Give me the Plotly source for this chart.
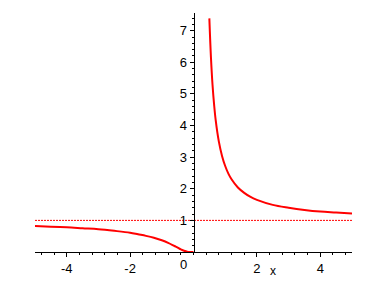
import plotly.graph_objects as go

# Left branch (x < 0)
left_x = [-5.0, -4.5, -4.0, -3.5, -3.0, -2.5, -2.0, -1.75, -1.5, -1.25, -1.0, -0.8, -0.6, -0.5, -0.4, -0.3, -0.2, -0.1, 0.0]
left_y = [0.82, 0.80, 0.78, 0.75, 0.72, 0.67, 0.61, 0.56, 0.51, 0.45, 0.37, 0.29, 0.19, 0.14, 0.08, 0.04, 0.01, 0.0, 0.0]

# Right branch (x > 0)
right_x = [0.5, 0.55, 0.6, 0.65, 0.7, 0.8, 0.9, 1.0, 1.1, 1.2, 1.4, 1.6, 1.8, 2.0, 2.5, 3.0, 3.5, 4.0, 4.5, 5.0]
right_y = [7.39, 6.16, 5.29, 4.66, 4.17, 3.49, 3.04, 2.72, 2.48, 2.30, 2.04, 1.87, 1.74, 1.65, 1.49, 1.40, 1.33, 1.28, 1.25, 1.22]

# Horizontal asymptote
asym_x = [-5.0, 5.0]
asym_y = [1.0, 1.0]

x_tick_vals = [-4, -2, 2, 4]
x_tick_text = ["-4", "-2", "2", "4"]
y_tick_vals = [1, 2, 3, 4, 5, 6, 7]
y_tick_text = ["1", "2", "3", "4", "5", "6", "7"]

red = "#ff0000"
font = dict(family="Liberation Sans, Arial, sans-serif", size=13, color="black")

fig = go.Figure()
fig.add_trace(go.Scatter(x=asym_x, y=asym_y, mode="lines",
                         line=dict(color=red, width=1, dash="2px,1px"), hoverinfo="skip"))
fig.add_trace(go.Scatter(x=left_x, y=left_y, mode="lines",
                         line=dict(color=red, width=2, shape="spline")))
fig.add_trace(go.Scatter(x=right_x, y=right_y, mode="lines",
                         line=dict(color=red, width=2, shape="spline")))

fig.update_layout(
    width=388, height=288,
    margin=dict(l=35, r=36, t=13, b=36),
    paper_bgcolor="white", plot_bgcolor="white",
    showlegend=False,
    font=font,
    xaxis=dict(range=[-5, 5], showgrid=False, zeroline=False,
               showline=True, linecolor="black", linewidth=1,
               tickmode="array", tickvals=x_tick_vals, ticktext=x_tick_text,
               ticks="outside", ticklen=4, tickcolor="black", tickwidth=1,
               minor=dict(dtick=0.4, tick0=0, ticks="outside", ticklen=2, tickcolor="black"),
               tickfont=font, fixedrange=True),
    yaxis=dict(range=[0, 7.56], showgrid=False, zeroline=False,
               showline=True, linecolor="black", linewidth=1,
               anchor="free", position=0.5,
               tickmode="array", tickvals=y_tick_vals, ticktext=y_tick_text,
               ticks="outside", ticklen=4, tickcolor="black", tickwidth=1,
               minor=dict(dtick=0.2, tick0=0, ticks="outside", ticklen=2, tickcolor="black"),
               tickfont=font, fixedrange=True),
    annotations=[
        dict(x=0, y=0, xref="x", yref="y", text="0", showarrow=False,
             xanchor="center", yanchor="top", xshift=-10, yshift=-3, font=font),
        dict(x=0.75, y=0, xref="paper", yref="paper", text="x", showarrow=False,
             xanchor="center", yanchor="top", yshift=-10, font=dict(family=font["family"], size=12, color="black")),
    ],
)

fig.write_html("out.html")
